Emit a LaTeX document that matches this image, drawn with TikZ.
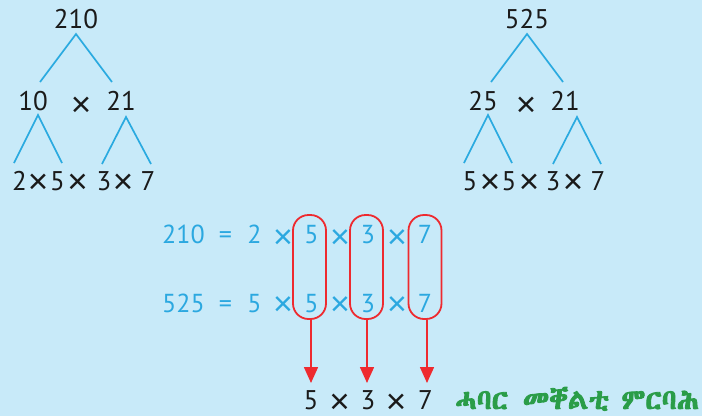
\documentclass[tikz,border=0pt]{standalone}
\usepackage{fontspec}
\setmainfont{PT Sans}
\newfontfamily\tmfont{Liberation Sans}
\IfFontExistsTF{FreeSerif.otf}{\newfontfamily\ethfont{FreeSerif.otf}[FakeBold=3]}{%
  \IfFontExistsTF{Abyssinica SIL}{\newfontfamily\ethfont{Abyssinica SIL}[FakeBold=3]}{\newfontfamily\ethfont{DejaVu Sans}}}
\usetikzlibrary{arrows.meta}
\definecolor{bgblue}{HTML}{C8EAF9}
\definecolor{txtblue}{HTML}{2BA8E0}
\definecolor{linblue}{HTML}{2AAAE0}
\definecolor{redc}{HTML}{EE2A2F}
\definecolor{greenc}{HTML}{2A9D48}
\definecolor{darktxt}{HTML}{1A1A1A}
\tikzset{
  num/.style={anchor=base, inner sep=0pt, font=\fontsize{27}{30}\selectfont, text=darktxt},
  tms/.style={anchor=base, inner sep=0pt, font=\tmfont\fontsize{35}{38}\selectfont, text=darktxt},
  bnum/.style={anchor=base, inner sep=0pt, font=\fontsize{26}{30}\selectfont, text=txtblue},
  btms/.style={anchor=base, inner sep=0pt, font=\tmfont\fontsize{34}{38}\selectfont, text=txtblue},
  treeline/.style={draw=linblue, line width=1.7pt},
  redbox/.style={draw=redc, line width=1.8pt, rounded corners=15.5pt, minimum width=33pt, minimum height=104pt, inner sep=0pt},
  redarrow/.style={draw=redc, line width=1.6pt, -{Triangle[width=14pt,length=16pt]}, fill=redc}
}
\begin{document}
\begin{tikzpicture}[x=1pt,y=-1pt]
\fill[bgblue] (0,0) rectangle (702,416);
\useasboundingbox (0,0) rectangle (702,416);
% left tree
\node[num] (l210) at (76,28) {210};
\node[num] (l10) at (33,110) {10};
\node[tms] (lx) at (81,116) {×};
\node[num] (l21) at (121,110) {21};
\node[num] (la) at (19.5,190) {2};
\node[tms] (lb) at (38,193.5) {×};
\node[num] (lc) at (57.5,190) {5};
\node[tms] (ld) at (77.5,193.5) {×};
\node[num] (le) at (104,190) {3};
\node[tms] (lf) at (123,193.5) {×};
\node[num] (lg) at (148,190) {7};
\coordinate (lt1) at (76,34);
\coordinate (lt1a) at (40,82);
\coordinate (lt1b) at (112,82);
\coordinate (lt2) at (38,115);
\coordinate (lt2a) at (14,163);
\coordinate (lt2b) at (62,163);
\coordinate (lt3) at (126,117);
\coordinate (lt3a) at (102,164);
\coordinate (lt3b) at (151,164);
\draw[treeline] (lt1a) -- (lt1) -- (lt1b);
\draw[treeline] (lt2a) -- (lt2) -- (lt2b);
\draw[treeline] (lt3a) -- (lt3) -- (lt3b);
% right tree
\node[num] (r525) at (527,28) {525};
\node[num] (r25) at (483,110) {25};
\node[tms] (rx) at (526,116) {×};
\node[num] (r21) at (565,110) {21};
\node[num] (ra) at (470,190) {5};
\node[tms] (rb) at (490,193.5) {×};
\node[num] (rc) at (509,190) {5};
\node[tms] (rd) at (529,193.5) {×};
\node[num] (re) at (553,190) {3};
\node[tms] (rf) at (573,193.5) {×};
\node[num] (rg) at (598,190) {7};
\coordinate (rt1) at (527,34);
\coordinate (rt1a) at (491,82);
\coordinate (rt1b) at (563,82);
\coordinate (rt2) at (488,115);
\coordinate (rt2a) at (464,163);
\coordinate (rt2b) at (512,163);
\coordinate (rt3) at (577,117);
\coordinate (rt3a) at (553,164);
\coordinate (rt3b) at (601,164);
\draw[treeline] (rt1a) -- (rt1) -- (rt1b);
\draw[treeline] (rt2a) -- (rt2) -- (rt2b);
\draw[treeline] (rt3a) -- (rt3) -- (rt3b);
% middle rows
\node[bnum] (m1a) at (183.5,243) {210};
\node[bnum] (m1b) at (225.5,243) {=};
\node[bnum] (m1c) at (254.5,243) {2};
\node[btms] (m1d) at (283,248.5) {×};
\node[bnum] (m1e) at (311.5,243) {5};
\node[btms] (m1f) at (340,248.5) {×};
\node[bnum] (m1g) at (368,243) {3};
\node[btms] (m1h) at (397,248.5) {×};
\node[bnum] (m1i) at (425,243) {7};
\node[bnum] (m2a) at (183.5,312) {525};
\node[bnum] (m2b) at (225.5,312) {=};
\node[bnum] (m2c) at (254.5,312) {5};
\node[btms] (m2d) at (283,315.5) {×};
\node[bnum] (m2e) at (311.5,312) {5};
\node[btms] (m2f) at (340,315.5) {×};
\node[bnum] (m2g) at (368,312) {3};
\node[btms] (m2h) at (397,315.5) {×};
\node[bnum] (m2i) at (425,312) {7};
% red boxes
\node[redbox] (box1) at (309.5,267) {};
\node[redbox] (box2) at (366.5,267) {};
\node[redbox] (box3) at (425,267) {};
% bottom result
\node[num] (s1) at (311,409) {5};
\node[tms] (s2) at (339.5,413.5) {×};
\node[num] (s3) at (368,409) {3};
\node[tms] (s4) at (396,413.5) {×};
\node[num] (s5) at (425.5,409) {7};
\coordinate (a1) at ([xshift=1.5pt]box1.south);
\coordinate (a2) at ([xshift=0.5pt]box2.south);
\coordinate (a3) at ([xshift=2pt]box3.south);
\coordinate (e1) at (a1 |- 0,383);
\coordinate (e2) at (a2 |- 0,383);
\coordinate (e3) at (a3 |- 0,383);
\draw[redarrow] (a1) -- (e1);
\draw[redarrow] (a2) -- (e2);
\draw[redarrow] (a3) -- (e3);
% label
\node[anchor=base west, inner sep=0pt, text=greenc, font=\ethfont\fontsize{28}{30}\selectfont] (lab) at (455,409) {ሓባር\hspace{2pt} መቐልቲ ምርባሕ};
\end{tikzpicture}
\end{document}
